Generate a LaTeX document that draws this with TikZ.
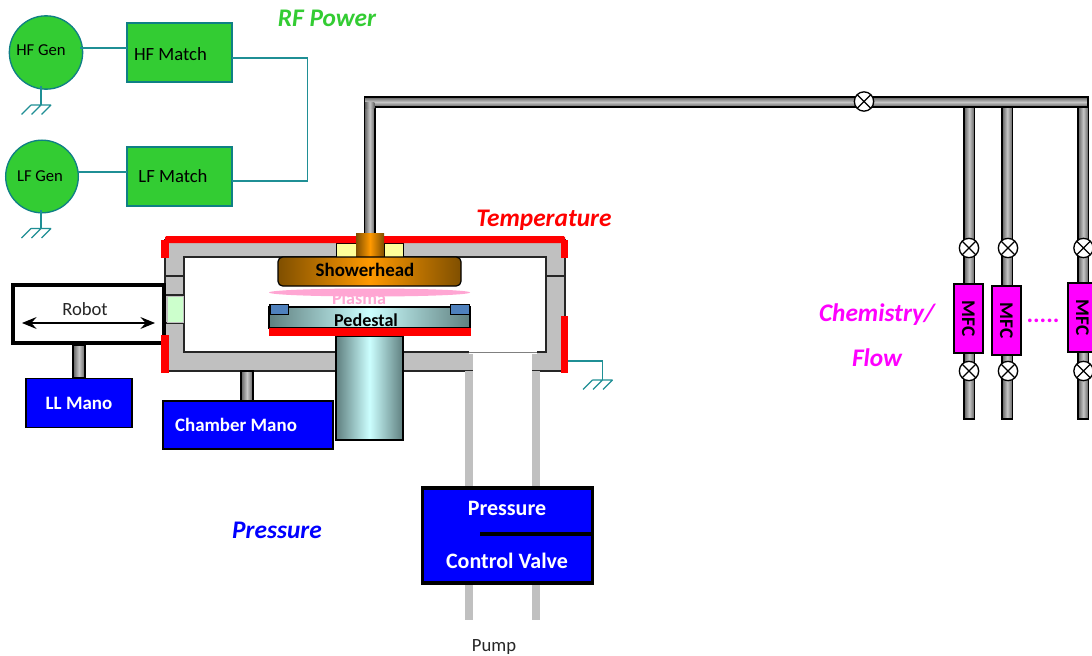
\documentclass[tikz,border=0pt]{standalone}
\usepackage{fontspec}
\setmainfont{Carlito}
\usetikzlibrary{arrows.meta,shapes.geometric,calc}
\definecolor{teal1}{HTML}{1F8F95}
\definecolor{tealb}{HTML}{0F7F85}
\definecolor{rfgreen}{HTML}{33CC33}
\definecolor{pipeedge}{HTML}{5F5F5F}
\definecolor{pipemid}{HTML}{C6C6C6}
\definecolor{wall}{HTML}{C0C0C0}
\definecolor{pedd}{HTML}{5F7F7F}
\definecolor{pedl}{HTML}{CCFFFF}
\definecolor{shd}{HTML}{7F4F00}
\definecolor{shl}{HTML}{FF9900}
\definecolor{plasmac}{HTML}{FFA6D3}
\definecolor{padc}{HTML}{4F81BD}
\definecolor{mag}{HTML}{FF00FF}
\definecolor{pureblue}{HTML}{0000FF}
\definecolor{purered}{HTML}{FF0000}
\definecolor{lightgr}{HTML}{CCFFCC}
\definecolor{lighty}{HTML}{FFFF99}
\newcommand{\fs}[1]{\fontsize{#1}{#1}\selectfont}
\tikzset{
  sz/.style 2 args={minimum width=#1*0.75pt,minimum height=#2*0.75pt,inner sep=0pt,outer sep=0pt},
  wire/.style={draw=teal1,line width=1.3pt},
  gencirc/.style={circle,draw=tealb,line width=1pt,fill=rfgreen,inner sep=0pt,outer sep=0pt},
  matchbox/.style={draw=tealb,line width=1pt,fill=rfgreen,text=black},
  bluebox/.style={draw=black,line width=.9pt,fill=pureblue,text=white,font=\fs{14.2}\bfseries},
  pipev/.style={draw=black,line width=.9pt,left color=pipeedge,right color=pipeedge,middle color=pipemid},
  pipeh/.style={draw=black,line width=.9pt,top color=pipeedge,bottom color=pipeedge,middle color=pipemid},
  valvec/.style={circle,draw=black,line width=1pt,inner sep=0pt,outer sep=0pt,minimum size=14.5pt,fill=white},
  xmark/.style={draw=black,line width=1pt},
  mfcbox/.style={draw=black,line width=1pt,fill=mag,text=black,font=\fs{14.5}\bfseries,sz={29}{69}},
  redbar/.style={fill=purered,draw=none},
  thinblack/.style={draw=black!85,line width=.9pt},
  title/.style={font=\fs{19}\bfseries\itshape},
}
\newcommand{\groundsym}[2]{%
  \draw[wire,line width=.9pt] (#1-10,#2) -- (#1+10,#2)
    (#1-10,#2) -- (#1-19.5,#2+9.5)
    (#1,#2) -- (#1-9.5,#2+9.5)
    (#1+10,#2) -- (#1+.5,#2+9.5);}
\begin{document}
\begin{tikzpicture}[x=0.75pt,y=-0.75pt]
\useasboundingbox (0,0) rectangle (1092,656);
\fill[white] (0,0) rectangle (1092,656);

% RF power
\node[gencirc,minimum size=55pt] (hfgen) at (46,52.5) {};
\node[font=\fs{12.5},text=black] (hfgenl) at (41,50) {HF Gen};
\node[gencirc,minimum size=54.5pt] (lfgen) at (42,176.5) {};
\node[font=\fs{12.5},text=black] (lfgenl) at (40,176.5) {LF Gen};
\node[matchbox,sz={105}{59}] (hfm) at (179.5,52.5) {};
\node[font=\fs{14}] (hfml) at (170.5,54) {HF Match};
\node[matchbox,sz={105}{59}] (lfm) at (179.5,176.5) {};
\node[font=\fs{14}] (lfml) at (173,176) {LF Match};
\coordinate (hfw) at (80,48);
\coordinate (lfw) at (78,172);
\coordinate (hfo) at (232,58);
\coordinate (lfo) at (232,181);
\coordinate (busx) at (307.5,0);
\draw[wire] (hfw) -- (hfw -| hfm.west);
\draw[wire] (lfw) -- (lfw -| lfm.west);
\draw[wire] (hfo) -- (hfo -| busx) -- (lfo -| busx) -- (lfo);
\coordinate (g1) at (41,105);
\coordinate (g2) at (41,228.5);
\draw[wire] (41,86) -- (g1);
\draw[wire] (41,210) -- (g2);
\groundsym{41}{105}
\groundsym{41}{228.5}
\node[title,text=rfgreen] (rft) at (327,18) {RF Power};

% Chamber
\filldraw[fill=wall,thinblack] (165,240) rectangle (565,371);
\filldraw[fill=white,thinblack] (184,257) rectangle (546,352);
\draw[thinblack] (165,276) -- (184,276) (546,276) -- (565,276) (165,295) -- (184,295) (165,323) -- (184,323);
\fill[fill=white] (469,351) rectangle (537,354);
\draw[draw=black!50,line width=.7pt] (469,352) -- (537,352);
\fill[white] (473,353) rectangle (532,385);
\fill[fill=wall] (465,371) rectangle (473,620);
\fill[fill=wall] (532,371) rectangle (540,620);
\filldraw[draw=wall,line width=.3pt,fill=lightgr] (167,296) rectangle (183.5,322.5);

% Gas line
\path[pipev] (364.5,107) rectangle (375,235);
\path[pipeh] (364.5,97) rectangle (1088,107);
\shade[left color=pipeedge,right color=pipeedge,middle color=pipemid] (365.1,103) rectangle (374.4,108.5);
\foreach \x in {964,1002,1078}{
  \path[pipev] (\x,107) rectangle (\x+10.5,419);
}
\node[valvec] (v0) at (864,101.5) {};
\draw[xmark] (v0.north west) -- (v0.south east) (v0.north east) -- (v0.south west);
\foreach \x/\n in {969/a,1008/b,1083.5/c}{
  \node[valvec] (u\n) at (\x,248) {};
  \draw[xmark] (u\n.north west) -- (u\n.south east) (u\n.north east) -- (u\n.south west);
  \node[valvec] (l\n) at (\x,371) {};
  \draw[xmark] (l\n.north west) -- (l\n.south east) (l\n.north east) -- (l\n.south west);
}
\node[mfcbox] (m1) at (968.5,318.5) {\rotatebox{-90}{MFC}};
\node[mfcbox] (m2) at (1006.5,320.5) {\rotatebox{-90}{MFC}};
\node[mfcbox] (m3) at (1082.5,317.5) {\rotatebox{-90}{MFC}};
\node[font=\fs{18.5}\bfseries,text=mag] (dots) at (1043,321) {.....};
\node[title,text=mag] (chem) at (877,315) {Chemistry/};
\node[title,text=mag] (flow) at (877,358) {Flow};

% Showerhead
\filldraw[fill=lighty,draw=black,line width=.6pt] (336,243) rectangle (356,257);
\filldraw[fill=lighty,draw=black,line width=.6pt] (384,243) rectangle (403,257);
\fill[redbar,rounded corners=1pt] (165,236) rectangle (565,243);
\shade[left color=shd,right color=shd,middle color=shl] (356,233) rectangle (384,257);
\node[draw=black,line width=.9pt,rounded corners=3.5pt,left color=shd,right color=shd,middle color=shl,sz={183}{29}] (sh) at (369.5,271.5) {};
\node[font=\fs{14.2}\bfseries,text=black] (shl) at (365,270) {Showerhead};
\fill[redbar] (161,240) rectangle (169,258);
\fill[redbar] (561,240) rectangle (568,258);
\fill[redbar] (561,316) rectangle (568,373);

% Plasma
\node[ellipse,fill=plasmac,sz={201}{8}] (pl) at (369.5,292.5) {};
\node[font=\fs{13.6}\bfseries,text=plasmac] (pll) at (359,298) {Plasma};

% Pedestal
\path[draw=black,line width=.9pt,left color=pedd,right color=pedd,middle color=pedl] (336,336) rectangle (403,440);
\node[draw=black,line width=.9pt,left color=pedd,right color=pedd,middle color=pedl,sz={201}{21}] (ped) at (369.5,317.5) {};
\node[font=\fs{13.6}\bfseries,text=black] (pedl) at (366,320) {Pedestal};
\fill[redbar] (269,328) rectangle (471,336);
\filldraw[fill=padc,draw=black,line width=.9pt] (270,304.5) rectangle (288.5,314.5);
\filldraw[fill=padc,draw=black,line width=.9pt] (450.5,304.5) rectangle (469.5,314.5);

% Chamber ground
\coordinate (cg) at (568,361);
\coordinate (cgb) at (602.5,380);
\draw[wire] (cg) -- (cg -| cgb) -- (cgb);
\groundsym{602.5}{380}

% Temperature label
\node[title,text=purered] (temp) at (544,220) {Temperature};

% Robot
\path[pipev] (73,345) rectangle (85,378);
\path[pipev] (241,371) rectangle (253,401);
\node[draw=black,line width=3.4pt,fill=white,sz={151}{58}] (robot) at (88.5,314) {};
\node[font=\fs{14},text=black!85] (robl) at (85,309.5) {Robot};
\coordinate (ra) at (22,323);
\coordinate (rb) at (155,323);
\draw[{Stealth[length=11pt,width=9pt,inset=4pt]}-{Stealth[length=11pt,width=9pt,inset=4pt]},line width=.8pt,black] (ra) -- (rb);
\fill[redbar] (161,335) rectangle (169,373);

% Blue boxes
\node[bluebox,sz={106}{49}] (ll) at (79,403) {LL Mano};
\node[bluebox,sz={170}{48}] (cm) at (248,425) {};
\node[font=\fs{14.2}\bfseries,text=white] (cml) at (236,425) {Chamber Mano};
\node[title,text=pureblue] (pt) at (277,530.5) {Pressure};

% Pressure control valve
\node[draw=black,line width=2.3pt,fill=pureblue,sz={170}{95}] (pcv) at (507.5,535.5) {};
\node[font=\fs{16.5}\bfseries,text=white] (pcv1) at (507,508) {Pressure};
\node[font=\fs{16.5}\bfseries,text=white] (pcv2) at (507,561) {Control Valve};
\coordinate (vs) at (480,534);
\draw[black,line width=3.4pt] (vs) -- (vs -| pcv.east) -- ++(1.5,0);
\node[font=\fs{14},text=black!85] (pump) at (494,647) {Pump};
\end{tikzpicture}
\end{document}
